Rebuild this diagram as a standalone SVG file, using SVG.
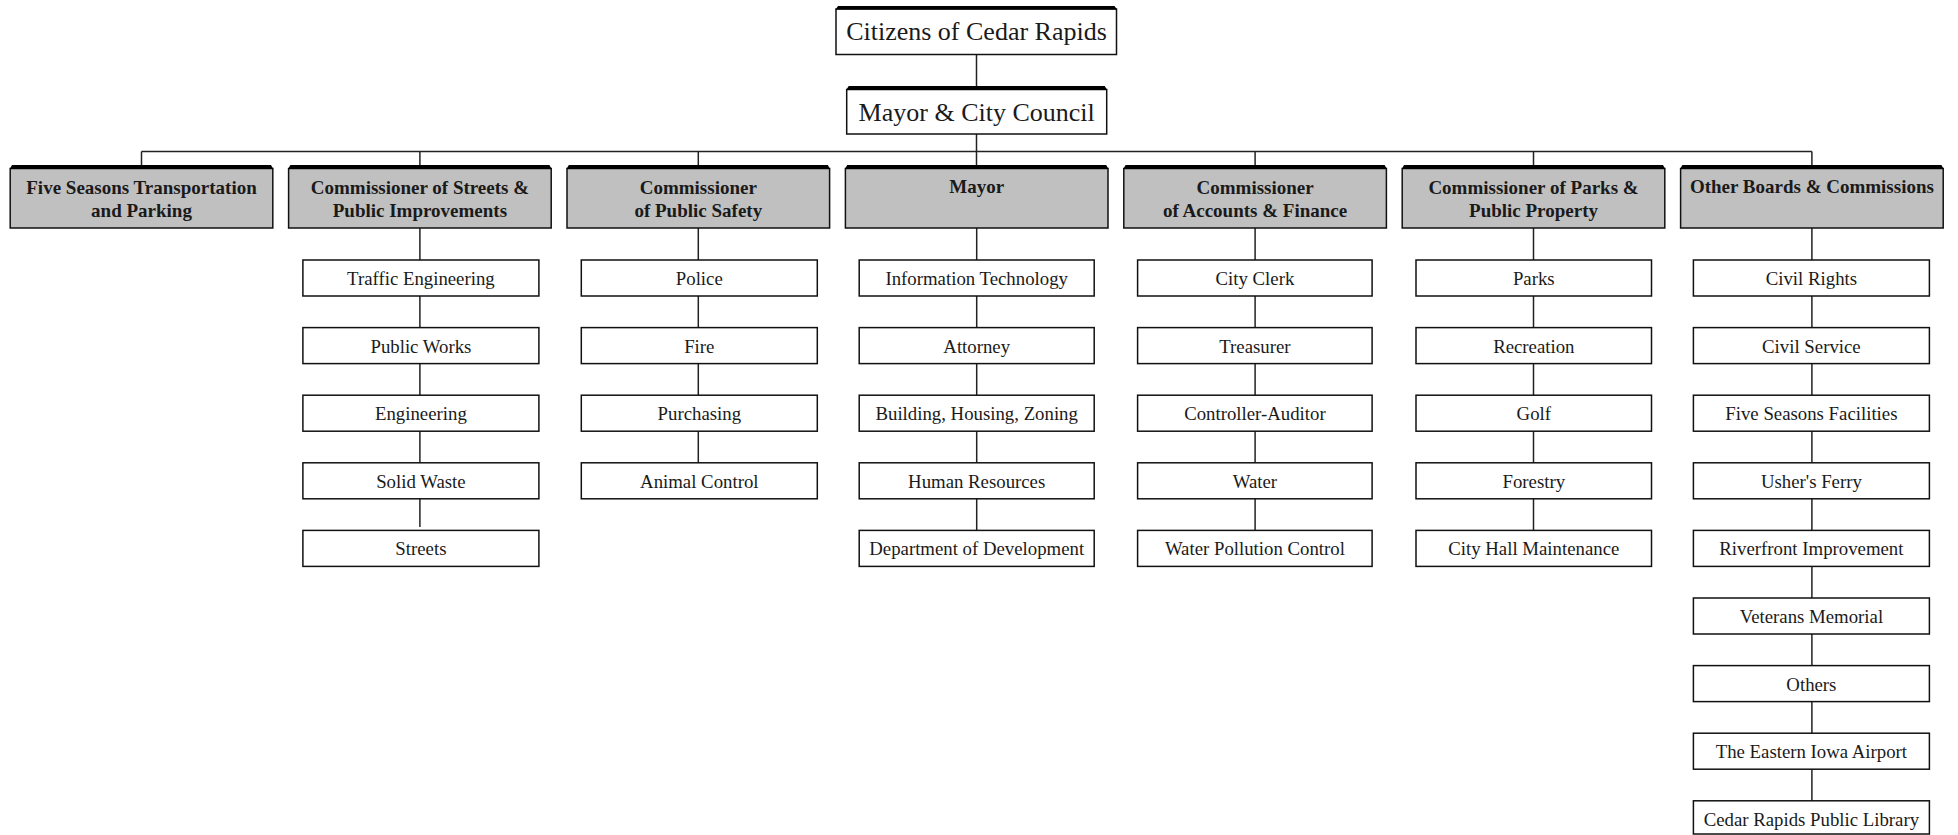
<svg xmlns="http://www.w3.org/2000/svg" width="1958" height="835" viewBox="0 0 1958 835">
<style>
.bg{fill:#fff}
.top{fill:#fff;stroke:#111;stroke-width:1.5}
.head{fill:#c0c0c0;stroke:#111;stroke-width:1.5}
.sub{fill:#fff;stroke:#111;stroke-width:1.5}
.bar{fill:#000}
.con{stroke:#222;stroke-width:1.5;fill:none}
text{font-family:"Liberation Serif","Times New Roman",serif;fill:#1a1a1a;text-anchor:middle}
.t1{font-size:26px}
.t2{font-size:19px;font-weight:bold}
.t3{font-size:18.8px}
</style>
<rect class="bg" width="1958" height="835"/>
<g id="connectors">
<line class="con" x1="976.5" y1="54" x2="976.5" y2="88"/>
<line class="con" x1="976.5" y1="134" x2="976.5" y2="166"/>
<line class="con" x1="141.5" y1="151.5" x2="1811.9" y2="151.5"/>
<line class="con" x1="141.5" y1="151.5" x2="141.5" y2="166"/>
<line class="con" x1="419.9" y1="151.5" x2="419.9" y2="527"/>
<line class="con" x1="698.3" y1="151.5" x2="698.3" y2="463"/>
<line class="con" x1="1255.1" y1="151.5" x2="1255.1" y2="531"/>
<line class="con" x1="1533.5" y1="151.5" x2="1533.5" y2="531"/>
<line class="con" x1="1811.9" y1="151.5" x2="1811.9" y2="801"/>
<line class="con" x1="976.7" y1="228" x2="976.7" y2="531"/>
</g>
<g id="citizens">
<rect class="top" x="836" y="9" width="280.5" height="45.5"/>
<path class="bar" d="M835.5 9.5 L838 6 L1114.5 6 L1117 9.5 Z"/>
<text class="t1" x="976.5" y="40">Citizens of Cedar Rapids</text>
</g>
<g id="council">
<rect class="top" x="846.7" y="89.5" width="260" height="44.5"/>
<path class="bar" d="M846.2 90 L848.7 86 L1104.7 86 L1107.2 90 Z"/>
<text class="t1" x="976.7" y="121">Mayor &amp; City Council</text>
</g>
<g id="h0">
<rect class="head" x="10.2" y="168.5" width="262.6" height="59.5"/>
<path class="bar" d="M9.7 169 L12 165 L271 165 L273.3 169 Z"/>
<text class="t2" x="141.5" y="193.5">Five Seasons Transportation</text>
<text class="t2" x="141.5" y="217">and Parking</text>
</g>
<g id="h1">
<rect class="head" x="288.6" y="168.5" width="262.6" height="59.5"/>
<path class="bar" d="M288.1 169 L290.4 165 L549.4 165 L551.7 169 Z"/>
<text class="t2" x="419.9" y="193.5">Commissioner of Streets &amp;</text>
<text class="t2" x="419.9" y="217">Public Improvements</text>
</g>
<g id="h2">
<rect class="head" x="567" y="168.5" width="262.6" height="59.5"/>
<path class="bar" d="M566.5 169 L568.8 165 L827.8 165 L830.1 169 Z"/>
<text class="t2" x="698.3" y="193.5">Commissioner</text>
<text class="t2" x="698.3" y="217">of Public Safety</text>
</g>
<g id="h3">
<rect class="head" x="845.4" y="168.5" width="262.6" height="59.5"/>
<path class="bar" d="M844.9 169 L847.2 165 L1106.2 165 L1108.5 169 Z"/>
<text class="t2" x="976.7" y="193">Mayor</text>
</g>
<g id="h4">
<rect class="head" x="1123.8" y="168.5" width="262.6" height="59.5"/>
<path class="bar" d="M1123.3 169 L1125.6 165 L1384.6 165 L1386.9 169 Z"/>
<text class="t2" x="1255.1" y="193.5">Commissioner</text>
<text class="t2" x="1255.1" y="217">of Accounts &amp; Finance</text>
</g>
<g id="h5">
<rect class="head" x="1402.2" y="168.5" width="262.6" height="59.5"/>
<path class="bar" d="M1401.7 169 L1404 165 L1663 165 L1665.3 169 Z"/>
<text class="t2" x="1533.5" y="193.5">Commissioner of Parks &amp;</text>
<text class="t2" x="1533.5" y="217">Public Property</text>
</g>
<g id="h6">
<rect class="head" x="1680.6" y="168.5" width="262.6" height="59.5"/>
<path class="bar" d="M1680.1 169 L1682.4 165 L1941.4 165 L1943.7 169 Z"/>
<text class="t2" x="1811.9" y="193">Other Boards &amp; Commissions</text>
</g>
<g id="streets-sub">
<g id="s1-1"><rect class="sub" x="302.9" y="260" width="236" height="36"/><text class="t3" x="420.9" y="285">Traffic Engineering</text></g>
<g id="s1-2"><rect class="sub" x="302.9" y="327.6" width="236" height="36"/><text class="t3" x="420.9" y="352.6">Public Works</text></g>
<g id="s1-3"><rect class="sub" x="302.9" y="395.2" width="236" height="36"/><text class="t3" x="420.9" y="420.2">Engineering</text></g>
<g id="s1-4"><rect class="sub" x="302.9" y="462.8" width="236" height="36"/><text class="t3" x="420.9" y="487.8">Solid Waste</text></g>
<g id="s1-5"><rect class="sub" x="302.9" y="530.4" width="236" height="36"/><text class="t3" x="420.9" y="555.4">Streets</text></g>
</g>
<g id="safety-sub">
<g id="s2-1"><rect class="sub" x="581.3" y="260" width="236" height="36"/><text class="t3" x="699.3" y="285">Police</text></g>
<g id="s2-2"><rect class="sub" x="581.3" y="327.6" width="236" height="36"/><text class="t3" x="699.3" y="352.6">Fire</text></g>
<g id="s2-3"><rect class="sub" x="581.3" y="395.2" width="236" height="36"/><text class="t3" x="699.3" y="420.2">Purchasing</text></g>
<g id="s2-4"><rect class="sub" x="581.3" y="462.8" width="236" height="36"/><text class="t3" x="699.3" y="487.8">Animal Control</text></g>
</g>
<g id="mayor-sub">
<g id="s3-1"><rect class="sub" x="859.2" y="260" width="235" height="36"/><text class="t3" x="976.7" y="285">Information Technology</text></g>
<g id="s3-2"><rect class="sub" x="859.2" y="327.6" width="235" height="36"/><text class="t3" x="976.7" y="352.6">Attorney</text></g>
<g id="s3-3"><rect class="sub" x="859.2" y="395.2" width="235" height="36"/><text class="t3" x="976.7" y="420.2">Building, Housing, Zoning</text></g>
<g id="s3-4"><rect class="sub" x="859.2" y="462.8" width="235" height="36"/><text class="t3" x="976.7" y="487.8">Human Resources</text></g>
<g id="s3-5"><rect class="sub" x="859.2" y="530.4" width="235" height="36"/><text class="t3" x="976.7" y="555.4">Department of Development</text></g>
</g>
<g id="accounts-sub">
<g id="s4-1"><rect class="sub" x="1137.6" y="260" width="234.5" height="36"/><text class="t3" x="1254.9" y="285">City Clerk</text></g>
<g id="s4-2"><rect class="sub" x="1137.6" y="327.6" width="234.5" height="36"/><text class="t3" x="1254.9" y="352.6">Treasurer</text></g>
<g id="s4-3"><rect class="sub" x="1137.6" y="395.2" width="234.5" height="36"/><text class="t3" x="1254.9" y="420.2">Controller-Auditor</text></g>
<g id="s4-4"><rect class="sub" x="1137.6" y="462.8" width="234.5" height="36"/><text class="t3" x="1254.9" y="487.8">Water</text></g>
<g id="s4-5"><rect class="sub" x="1137.6" y="530.4" width="234.5" height="36"/><text class="t3" x="1254.9" y="555.4">Water Pollution Control</text></g>
</g>
<g id="parks-sub">
<g id="s5-1"><rect class="sub" x="1416" y="260" width="235.5" height="36"/><text class="t3" x="1533.8" y="285">Parks</text></g>
<g id="s5-2"><rect class="sub" x="1416" y="327.6" width="235.5" height="36"/><text class="t3" x="1533.8" y="352.6">Recreation</text></g>
<g id="s5-3"><rect class="sub" x="1416" y="395.2" width="235.5" height="36"/><text class="t3" x="1533.8" y="420.2">Golf</text></g>
<g id="s5-4"><rect class="sub" x="1416" y="462.8" width="235.5" height="36"/><text class="t3" x="1533.8" y="487.8">Forestry</text></g>
<g id="s5-5"><rect class="sub" x="1416" y="530.4" width="235.5" height="36"/><text class="t3" x="1533.8" y="555.4">City Hall Maintenance</text></g>
</g>
<g id="other-sub">
<g id="s6-1"><rect class="sub" x="1693.4" y="260" width="236" height="36"/><text class="t3" x="1811.4" y="285">Civil Rights</text></g>
<g id="s6-2"><rect class="sub" x="1693.4" y="327.6" width="236" height="36"/><text class="t3" x="1811.4" y="352.6">Civil Service</text></g>
<g id="s6-3"><rect class="sub" x="1693.4" y="395.2" width="236" height="36"/><text class="t3" x="1811.4" y="420.2">Five Seasons Facilities</text></g>
<g id="s6-4"><rect class="sub" x="1693.4" y="462.8" width="236" height="36"/><text class="t3" x="1811.4" y="487.8">Usher's Ferry</text></g>
<g id="s6-5"><rect class="sub" x="1693.4" y="530.4" width="236" height="36"/><text class="t3" x="1811.4" y="555.4">Riverfront Improvement</text></g>
<g id="s6-6"><rect class="sub" x="1693.4" y="598" width="236" height="36"/><text class="t3" x="1811.4" y="623">Veterans Memorial</text></g>
<g id="s6-7"><rect class="sub" x="1693.4" y="665.6" width="236" height="36"/><text class="t3" x="1811.4" y="690.6">Others</text></g>
<g id="s6-8"><rect class="sub" x="1693.4" y="733.2" width="236" height="36"/><text class="t3" x="1811.4" y="758.2">The Eastern Iowa Airport</text></g>
<g id="s6-9"><rect class="sub" x="1693.4" y="800.8" width="236" height="33.2"/><text class="t3" x="1811.4" y="825.8">Cedar Rapids Public Library</text></g>
</g>
</svg>
